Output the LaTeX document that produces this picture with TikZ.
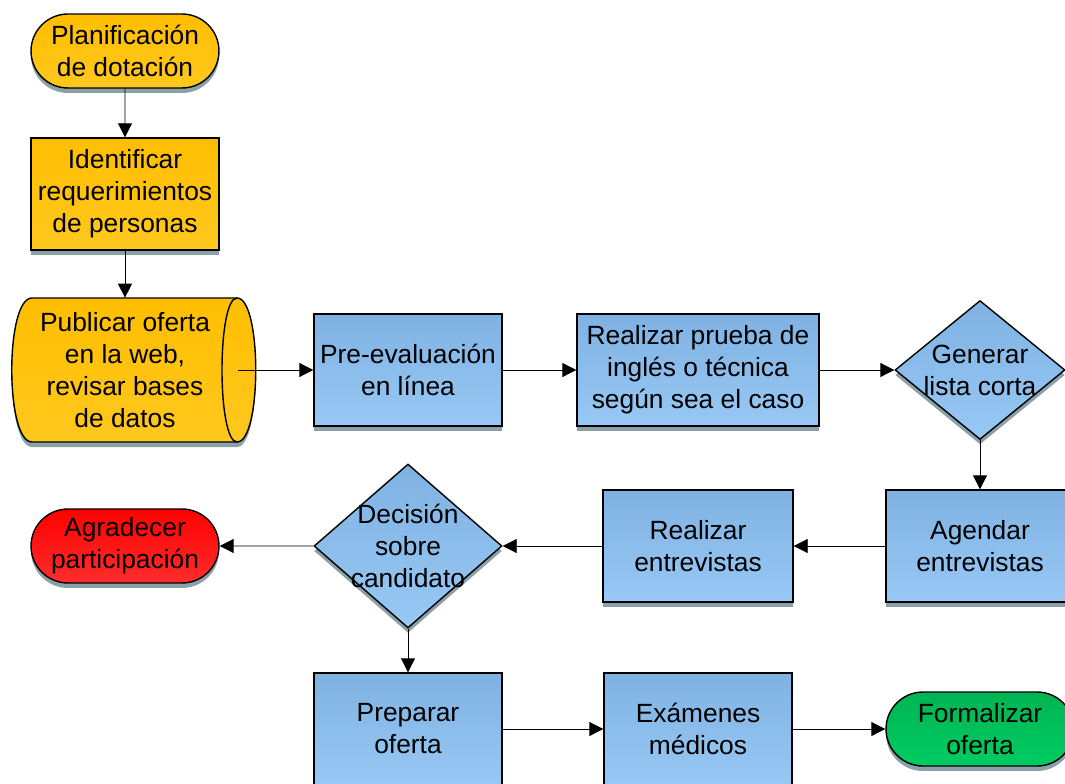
\documentclass[tikz,border=0pt]{standalone}
\usepackage{fontspec}
\setmainfont{Liberation Sans}
\usetikzlibrary{arrows.meta,shapes.geometric,shapes.misc,shadows}
\definecolor{cOrangeTop}{RGB}{255,190,0}
\definecolor{cOrangeBot}{RGB}{255,200,30}
\definecolor{cBlueTop}{RGB}{127,178,227}
\definecolor{cBlueBot}{RGB}{152,200,244}
\definecolor{cRedTop}{RGB}{255,0,0}
\definecolor{cRedBot}{RGB}{255,45,45}
\definecolor{cGreenTop}{RGB}{0,180,82}
\definecolor{cGreenBot}{RGB}{0,204,98}
\definecolor{cShadow}{RGB}{140,160,168}
\tikzset{
  boxshadow/.style={drop shadow={shadow xshift=0cm, shadow yshift=-0.1cm, fill=cShadow, opacity=1}},
  orangegrad/.style={top color=cOrangeTop, bottom color=cOrangeBot},
  bluegrad/.style={top color=cBlueTop, bottom color=cBlueBot},
  redgrad/.style={top color=cRedTop, bottom color=cRedBot},
  greengrad/.style={top color=cGreenTop, bottom color=cGreenBot},
  terminal/.style={rounded rectangle, draw, line width=0.8pt, minimum width=3.76cm,
    minimum height=1.48cm, inner sep=0pt, align=center, boxshadow},
  procbox/.style={rectangle, draw, line width=0.8pt, minimum width=3.76cm,
    minimum height=2.24cm, inner sep=0pt, align=center, boxshadow},
  decision/.style={diamond, draw, line width=0.8pt, inner sep=0pt, bluegrad, boxshadow}
}
\begin{document}
\begin{tikzpicture}[x=0.02cm, y=-0.02cm, font=\fontsize{15}{18.2}\selectfont,
    flow/.style={draw=black, line width=0.5pt, -{Triangle[length=0.28cm, width=0.28cm]}}]
  \path[use as bounding box, clip] (0,0) rectangle (1065,784);

  % left column
  \node[terminal, orangegrad] (plan) at (125,51) {Planificación\\de dotación};
  \node[procbox, orangegrad] (ident) at (125,194) {Identificar\\requerimientos\\de personas};
  \path[draw, line width=0.8pt, orangegrad, boxshadow]
    (32,298) -- (237,298) .. controls (262,298) and (262,442) .. (237,442)
    -- (32,442) .. controls (5,442) and (5,298) .. (32,298) -- cycle;
  \draw[line width=0.8pt] (237,298) .. controls (217,298) and (217,442) .. (237,442);
  \node[align=center, minimum width=4.1cm, minimum height=2.88cm, inner sep=0pt] (publicar) at (125,370)
    {Publicar oferta\\en la web,\\revisar bases\\de datos};
  \coordinate (pubout) at (238,370);

  % second row
  \node[procbox, bluegrad] (preeval) at (408,370) {Pre-evaluación\\en línea};
  \node[procbox, bluegrad, minimum width=4.84cm] (prueba) at (698,370)
    {Realizar prueba de\\inglés o técnica\\según sea el caso};
  \node[decision, minimum width=3.4cm, minimum height=2.78cm,
    label={[align=center]center:Generar\\lista corta}] (lista) at (980,370) {};

  % third row
  \node[procbox, bluegrad] (agendar) at (980,546) {Agendar\\entrevistas};
  \node[procbox, bluegrad, minimum width=3.8cm] (entrev) at (698,546) {Realizar\\entrevistas};
  \node[decision, minimum width=3.76cm, minimum height=3.28cm,
    label={[align=center]center:Decisión\\sobre\\candidato}] (decision) at (408,546) {};
  \node[terminal, redgrad] (agradecer) at (125,546) {Agradecer\\participación};

  % last row
  \node[procbox, bluegrad] (preparar) at (408,729) {Preparar\\oferta};
  \node[procbox, bluegrad] (examenes) at (698,729) {Exámenes\\médicos};
  \node[terminal, greengrad] (formalizar) at (980,729) {Formalizar\\oferta};

  \draw[flow] (plan) -- (ident);
  \draw[flow] (ident) -- (publicar);
  \draw[flow] (pubout) -- (preeval);
  \draw[flow] (preeval) -- (prueba);
  \draw[flow] (prueba) -- (lista);
  \draw[flow] (lista) -- (agendar);
  \draw[flow] (agendar) -- (entrev);
  \draw[flow] (entrev) -- (decision);
  \draw[flow] (decision) -- (agradecer);
  \draw[flow] (decision) -- (preparar);
  \draw[flow] (preparar) -- (examenes);
  \draw[flow] (examenes) -- (formalizar);
\end{tikzpicture}
\end{document}
